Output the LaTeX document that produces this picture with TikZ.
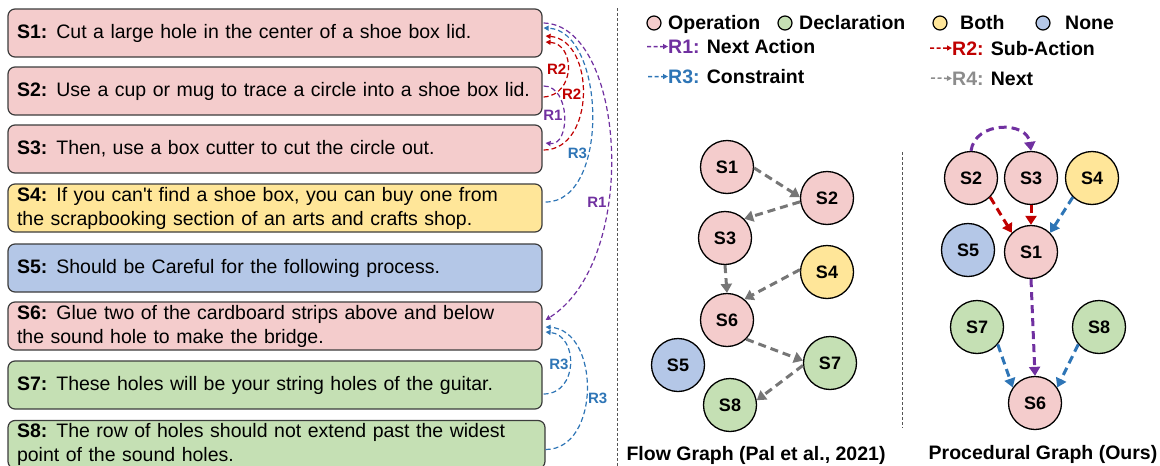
\documentclass[tikz,border=0pt]{standalone}
\usepackage{fontspec}
\setmainfont{Liberation Sans}[Ligatures=TeXOff]
\usetikzlibrary{arrows.meta,calc}
\definecolor{opfill}{HTML}{F4CCCC}
\definecolor{decfill}{HTML}{C5E0B4}
\definecolor{bothfill}{HTML}{FFE699}
\definecolor{nonefill}{HTML}{B4C7E7}
\definecolor{rone}{HTML}{7030A0}
\definecolor{rtwo}{HTML}{C00000}
\definecolor{rthree}{HTML}{2E75B6}
\definecolor{rfour}{HTML}{8C8C8C}
\definecolor{flowgray}{HTML}{767676}
\definecolor{boxline}{HTML}{3C3C3C}
\definecolor{sepgray}{HTML}{555555}
\begin{document}
\begin{tikzpicture}[x=1pt,y=-1pt,
  stepbox/.style={draw=boxline, line width=1.2pt, rounded corners=7pt,
    minimum width=534pt, minimum height=48pt, text width=516pt, align=left,
    inner xsep=9pt, inner ysep=0pt, font=\fontsize{19.5}{24}\selectfont},
  arc/.style={dash pattern=on 5pt off 3pt, line width=1.2pt, -{Triangle[length=5pt,width=5pt]}},
  arclabel/.style={font=\bfseries\fontsize{15}{15}\selectfont, inner sep=1pt},
  gnode/.style={circle, draw=black, line width=1.3pt, minimum size=53pt, inner sep=0pt,
    font=\bfseries\fontsize{18}{18}\selectfont},
  garrow/.style={line width=3pt, dash pattern=on 8pt off 5pt, -{Triangle[length=9pt,width=11pt]}},
  legdot/.style={circle, draw=black, line width=1.2pt, minimum size=14pt, inner sep=0pt},
  legtext/.style={font=\bfseries\fontsize{19.5}{20}\selectfont, inner sep=0pt, anchor=base west},
  legarr/.style={line width=1.5pt, dash pattern=on 4pt off 2.5pt, -{Triangle[length=5pt,width=5pt]}},
  caption/.style={font=\bfseries\fontsize{19.5}{20}\selectfont, inner sep=0pt, anchor=base},
  sep/.style={sepgray, line width=0.8pt, dash pattern=on 3pt off 2pt}
]
\useasboundingbox (0,0) rectangle (1160,466);

% ---------- step boxes ----------
\node[stepbox, fill=opfill] (b1) at (275,33) {\textbf{S1:}\hspace{9pt}Cut a large hole in the center of a shoe box lid.};
\node[stepbox, fill=opfill] (b2) at (275,91) {\textbf{S2:}\hspace{9pt}Use a cup or mug to trace a circle into a shoe box lid.};
\node[stepbox, fill=opfill] (b3) at (275,149) {\textbf{S3:}\hspace{9pt}Then, use a box cutter to cut the circle out.};
\node[stepbox, fill=bothfill] (b4) at (275,208) {\textbf{S4:}\hspace{9pt}If you can't find a shoe box, you can buy one from\\the scrapbooking section of an arts and crafts shop.};
\node[stepbox, fill=nonefill] (b5) at (275,268) {\textbf{S5:}\hspace{9pt}Should be Careful for the following process.};
\node[stepbox, fill=opfill] (b6) at (275,326) {\textbf{S6:}\hspace{9pt}Glue two of the cardboard strips above and below\\the sound hole to make the bridge.};
\node[stepbox, fill=decfill] (b7) at (275,385) {\textbf{S7:}\hspace{9pt}These holes will be your string holes of the guitar.};
\node[stepbox, fill=decfill, minimum width=537pt, text width=519pt] (b8) at (276.5,444.5) {\textbf{S8:}\hspace{9pt}The row of holes should not extend past the widest\\point of the sound holes.};

% ---------- relation arcs ----------
\draw[arc, rone] ($(b1.east)+(1,-10)$) .. controls +(82,2) and +(95,-60) .. ($(b6.east)+(3,-6)$) node[arclabel, pos=0.63, left, text=rone] {R1};
\draw[arc, rthree] ($(b4.east)+(3,-6)$) .. controls +(65,0) and +(62,2) .. ($(b1.east)+(1,-5)$) node[arclabel, pos=0.35, left, text=rthree] {R3};
\draw[arc, rtwo] ($(b3.east)+(1,1)$) .. controls +(52,0) and +(50,4) .. ($(b1.east)+(3,3)$) node[arclabel, pos=0.5, left, text=rtwo] {R2};
\draw[arc, rtwo] ($(b2.east)+(1,6)$) .. controls +(32,-2) and +(30,2) .. ($(b1.east)+(3,9)$) node[arclabel, pos=0.5, left, text=rtwo] {R2};
\draw[arc, rone] ($(b2.east)+(1,-5)$) .. controls +(27,0) and +(25,3) .. ($(b3.east)+(3,-6)$) node[arclabel, pos=0.5, left, text=rone] {R1};
\draw[arc, rthree] ($(b7.east)+(1,9)$) .. controls +(35,0) and +(33,3) .. ($(b6.east)+(3,6)$) node[arclabel, pos=0.5, left, text=rthree] {R3};
\draw[arc, rthree] ($(b8.east)+(0,5)$) .. controls +(55,0) and +(55,3) .. ($(b6.east)+(3,1)$) node[arclabel, pos=0.45, right, text=rthree] {R3};

% ---------- separators ----------
\draw[sep] (617,8) -- (617,466);
\draw[sep] (902,152) -- (902,428);

% ---------- legend ----------
\node[legdot, fill=opfill] (lc1) at (654,23) {};
\node[legtext] (lt1) at (668,29.5) {Operation};
\node[legdot, fill=decfill] (lc2) at (785,23) {};
\node[legtext] (lt2) at (799,29.5) {Declaration};
\node[legdot, fill=bothfill] (lc3) at (940,23) {};
\node[legtext] (lt3) at (960,29.5) {Both};
\node[legdot, fill=nonefill] (lc4) at (1043,23) {};
\node[legtext] (lt4) at (1065,29.5) {None};

\coordinate (la1) at (647,46.5);
\node[legtext] (ll1) at (668,53.5) {\textcolor{rone}{R1:} Next Action};
\draw[legarr, rone] (la1) -- (ll1.west);
\coordinate (la3) at (648,76.5);
\node[legtext] (ll3) at (668,83.5) {\textcolor{rthree}{R3:} Constraint};
\draw[legarr, rthree] (la3) -- (ll3.west);
\coordinate (la2) at (930,48);
\node[legtext] (ll2) at (952,55) {\textcolor{rtwo}{R2:} Sub-Action};
\draw[legarr, rtwo] (la2) -- (ll2.west);
\coordinate (la4) at (931,78);
\node[legtext] (ll4) at (952,85) {\textcolor{rfour}{R4:} Next};
\draw[legarr, rfour] (la4) -- (ll4.west);

% ---------- flow graph ----------
\node[gnode, fill=opfill] (f1) at (727,167) {S1};
\node[gnode, fill=opfill] (f2) at (827,198) {S2};
\node[gnode, fill=opfill] (f3) at (725,238) {S3};
\node[gnode, fill=bothfill] (f4) at (827,272) {S4};
\node[gnode, fill=opfill] (f6) at (727,320) {S6};
\node[gnode, fill=nonefill] (f5) at (678,365) {S5};
\node[gnode, fill=decfill] (f7) at (830,363) {S7};
\node[gnode, fill=decfill] (f8) at (730,405) {S8};
\draw[garrow, flowgray] (f1.358) -- (f2.178);
\draw[garrow, flowgray] (f2.188) -- (f3.45);
\draw[garrow, flowgray] (f3.south) -- (f6.north);
\draw[garrow, flowgray] (f4.175) -- (f6.50);
\draw[garrow, flowgray] (f6.-45) -- (f7.175);
\draw[garrow, flowgray] (f7.185) -- (f8.10);
\node[caption] (cap1) at (756,460) {Flow Graph (Pal et al., 2021)};

% ---------- procedural graph ----------
\node[gnode, fill=opfill] (p2) at (971,178) {S2};
\node[gnode, fill=opfill] (p3) at (1031,178) {S3};
\node[gnode, fill=bothfill] (p4) at (1092,178) {S4};
\node[gnode, fill=nonefill] (p5) at (968,250) {S5};
\node[gnode, fill=opfill] (p1) at (1031,252) {S1};
\node[gnode, fill=decfill] (p7) at (977,327) {S7};
\node[gnode, fill=decfill] (p8) at (1099,327) {S8};
\node[gnode, fill=opfill] (p6) at (1035,403) {S6};
\draw[garrow, rone] (p2.north) .. controls +(4,-30) and +(-4,-30) .. (p3.north);
\draw[garrow, rtwo] (p2.-45) -- (p1.135);
\draw[garrow, rtwo] (p3.south) -- (p1.north);
\draw[garrow, rthree] (p4.-135) -- (p1.45);
\draw[garrow, rone] (p1.south) -- (p6.north);
\draw[garrow, rthree] (p7.-40) -- (p6.145);
\draw[garrow, rthree] (p8.-140) -- (p6.35);
\node[caption] (cap2) at (1043,459.5) {Procedural Graph (Ours)};
\end{tikzpicture}
\end{document}
